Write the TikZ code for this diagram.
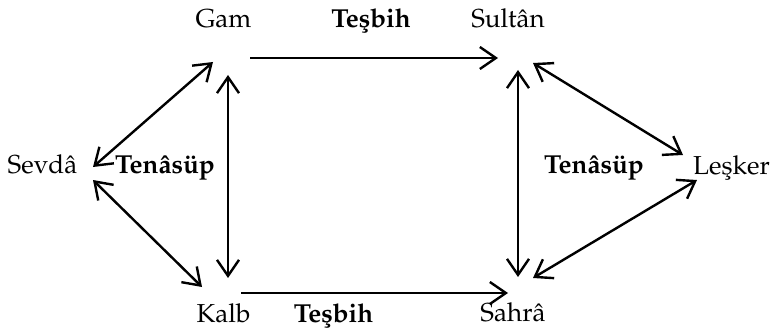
\documentclass[tikz,border=0pt]{standalone}
\usepackage[T1]{fontenc}
\usepackage{mathpazo}
\usetikzlibrary{arrows.meta}
\begin{document}
\begin{tikzpicture}[x=1pt,y=-1pt,
  word/.style={inner sep=0pt, anchor=base, font=\fontsize{26}{30}\selectfont},
  rel/.style={word, font=\fontsize{26}{30}\selectfont\bfseries},
  barb/.tip={Straight Barb[length=16pt,width=22pt]},
  link/.style={line width=2.4pt, -barb},
  dlink/.style={line width=2.4pt, barb-barb}]
\useasboundingbox (0,0) rectangle (771,329);

% terms
\node[word] (gam)    at (223.5,28)  {Gam};
\node[word] (sultan) at (508,28)    {Sult\^an};
\node[word] (sevda)  at (42.5,173)  {Sevd\^a};
\node[word] (lesker) at (731.5,174) {Le\c{s}ker};
\node[word] (kalb)   at (223.5,322) {Kalb};
\node[word] (sahra)  at (513,321)   {Sahr\^a};

% relation labels
\node[rel] (tesbihT) at (371,28)    {Te\c{s}bih};
\node[rel] (tesbihB) at (333.5,322) {Te\c{s}bih};
\node[rel] (tenasL)  at (165,173)   {Ten\^as\"up};
\node[rel] (tenasR)  at (594,173)   {Ten\^as\"up};

% connector ends
\coordinate (gamE)     at (250,58);
\coordinate (sultanW)  at (498,58);
\coordinate (gamS)     at (228,75);
\coordinate (kalbN)    at (228,278);
\coordinate (gamSW)    at (213,62);
\coordinate (sevdaNE)  at (93,167);
\coordinate (sevdaSE)  at (93,180);
\coordinate (kalbNW)   at (202,287);
\coordinate (kalbE)    at (241,293);
\coordinate (sahraW)   at (508,293);
\coordinate (sultanS)  at (518,70);
\coordinate (sahraN)   at (518,277);
\coordinate (sultanSE) at (533,63);
\coordinate (leskerNW) at (683,155);
\coordinate (leskerSW) at (697,180);
\coordinate (sahraNE)  at (533,278);

% connectors
\draw[link]  (gamE) -- (sultanW);
\draw[link]  (kalbE) -- (sahraW);
\draw[dlink] (gamS) -- (kalbN);
\draw[dlink] (sevdaNE) -- (gamSW);
\draw[dlink] (sevdaSE) -- (kalbNW);
\draw[dlink] (sultanS) -- (sahraN);
\draw[dlink] (sultanSE) -- (leskerNW);
\draw[dlink] (sahraNE) -- (leskerSW);
\end{tikzpicture}
\end{document}
